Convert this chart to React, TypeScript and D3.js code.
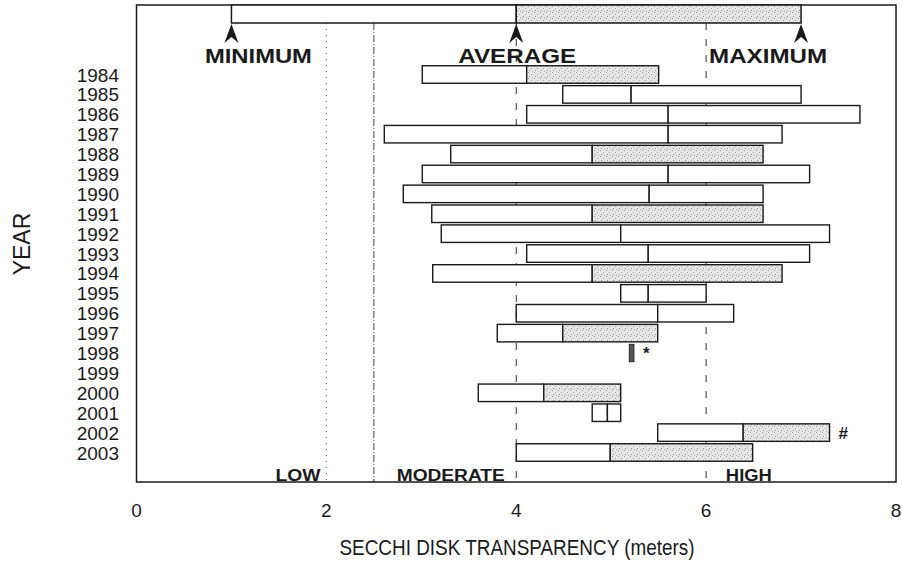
import * as d3 from "d3";

// annual Secchi disk readings (meters)
const years = ["1984", "1985", "1986", "1987", "1988", "1989", "1990", "1991", "1992", "1993",
  "1994", "1995", "1996", "1997", "1998", "1999", "2000", "2001", "2002", "2003"];
const minVals = [3.01, 4.49, 4.11, 2.61, 3.31, 3.01, 2.81, 3.11, 3.21, 4.11,
  3.12, 5.1, 4.0, 3.8, 5.19, null, 3.6, 4.8, 5.49, 4.0];
const avgVals = [4.11, 5.21, 5.6, 5.6, 4.8, 5.6, 5.4, 4.8, 5.1, 5.39,
  4.8, 5.39, 5.49, 4.49, 5.21, null, 4.29, 4.96, 6.39, 4.99];
const maxVals = [5.5, 7.0, 7.62, 6.8, 6.6, 7.09, 6.6, 6.6, 7.3, 7.09,
  6.8, 6.0, 6.29, 5.49, 5.24, null, 5.1, 5.1, 7.3, 6.49];
const shadedYears = ["1984", "1988", "1991", "1994", "1997", "2000", "2002", "2003"];
const notes: Record<string, string> = { "1998": "*", "2002": "#" };

const xTicks = [0, 2, 4, 6, 8];
const zoneNames = ["LOW", "MODERATE", "HIGH"];
const zoneCenters = [1.7, 3.31, 6.45];
const zoneWidths = [45, 108, 46];

// legend example bar
const legendMin = 1, legendAvg = 4, legendMax = 7;
const legendNames = ["MINIMUM", "AVERAGE", "MAXIMUM"];

const font = "'Liberation Sans', Arial, sans-serif";
const ink = "#1a1a1a";

export default function App() {
  const x = d3.scaleLinear().domain([0, 8]).range([136.5, 896]);
  const y = d3.scalePoint<string>().domain(years).range([74.5, 452.5]);
  const top = 5, bottom = 482;
  const barH = 17.5;
  const legY0 = top, legY1 = 23;

  const arrow = (cx: number) =>
    `M${cx},${legY1 + 1} L${cx + 7},${legY1 + 20} L${cx},${legY1 + 14} L${cx - 7},${legY1 + 20} Z`;

  return (
    <svg width={902} height={563} style={{ position: "absolute", left: 0, top: 0, background: "#fff" }}>
      <defs>
        <pattern id="stipple" width={6} height={6} patternUnits="userSpaceOnUse">
          <rect width={6} height={6} fill="#e6e6e6" />
          <rect x={0} y={0} width={1} height={1} fill="#9a9a9a" />
          <rect x={3} y={2} width={1} height={1} fill="#aaaaaa" />
          <rect x={1} y={4} width={1} height={1} fill="#8f8f8f" />
          <rect x={4} y={5} width={1} height={1} fill="#b0b0b0" />
        </pattern>
      </defs>

      {/* reference lines */}
      <line x1={x(2)} x2={x(2)} y1={legY1} y2={bottom} stroke="#555" strokeWidth={1} strokeDasharray="1,5" />
      <line x1={x(2.5)} x2={x(2.5)} y1={legY1} y2={bottom} stroke="#444" strokeWidth={1} strokeDasharray="7,2,1,2" />
      {[4, 6].map((v) => (
        <line key={v} x1={x(v)} x2={x(v)} y1={legY1} y2={bottom} stroke="#333" strokeWidth={1} strokeDasharray="7,9" />
      ))}

      {/* frame */}
      <rect x={x(0)} y={top} width={x(8) - x(0)} height={bottom - top} fill="none" stroke={ink} strokeWidth={1.5} />

      {/* legend */}
      <rect x={x(legendMin)} y={legY0} width={x(legendAvg) - x(legendMin)} height={legY1 - legY0}
        fill="#fff" stroke={ink} strokeWidth={1.5} />
      <rect x={x(legendAvg)} y={legY0} width={x(legendMax) - x(legendAvg)} height={legY1 - legY0}
        fill="url(#stipple)" stroke={ink} strokeWidth={1.5} />
      {[legendMin, legendAvg, legendMax].map((v, i) => (
        <g key={v}>
          <path d={arrow(x(v))} fill={ink} />
          <text x={x(v) + [27, 1, -33][i]} y={63} textAnchor="middle" fontFamily={font} fontWeight="bold"
            fontSize={21} fill={ink} textLength={[107, 118, 118][i]} lengthAdjust="spacingAndGlyphs">
            {legendNames[i]}
          </text>
        </g>
      ))}

      {/* bars */}
      {years.map((yr, i) => {
        const lo = minVals[i], av = avgVals[i], hi = maxVals[i];
        if (lo == null || av == null || hi == null) return null;
        const cy = y(yr)!;
        const y0 = cy - barH / 2;
        const tiny = x(hi) - x(lo) < 8;
        return (
          <g key={yr}>
            {tiny ? (
              <rect x={x(lo)} y={y0} width={x(hi) - x(lo)} height={barH} fill="#555" stroke={ink} strokeWidth={0.8} />
            ) : (
              <>
                <rect x={x(lo)} y={y0} width={x(av) - x(lo)} height={barH} fill="#fff" stroke={ink} strokeWidth={1.4} />
                <rect x={x(av)} y={y0} width={x(hi) - x(av)} height={barH}
                  fill={shadedYears.includes(yr) ? "url(#stipple)" : "#fff"} stroke={ink} strokeWidth={1.4} />
              </>
            )}
            {notes[yr] && (
              <text x={x(hi) + 9} y={cy + 6} fontFamily={font} fontWeight="bold" fontSize={17} fill={ink}>
                {notes[yr]}
              </text>
            )}
          </g>
        );
      })}

      {/* year labels */}
      {years.map((yr) => (
        <text key={yr} x={119} y={y(yr)! + 7} textAnchor="end" fontFamily={font} fontSize={19} fill={ink}>
          {yr}
        </text>
      ))}

      {/* zone labels */}
      {zoneNames.map((n, i) => (
        <text key={n} x={x(zoneCenters[i])} y={481} textAnchor="middle" fontFamily={font} fontWeight="bold"
          fontSize={16} fill={ink} textLength={zoneWidths[i]} lengthAdjust="spacingAndGlyphs">
          {n}
        </text>
      ))}

      {/* x ticks */}
      {xTicks.map((t) => (
        <text key={t} x={x(t)} y={517} textAnchor="middle" fontFamily={font} fontSize={19} fill={ink}>
          {t}
        </text>
      ))}

      <text x={517} y={555} textAnchor="middle" fontFamily={font} fontSize={22} fill={ink}
        textLength={355} lengthAdjust="spacingAndGlyphs">
        SECCHI DISK TRANSPARENCY (meters)
      </text>
      <text transform="translate(30,244) rotate(-90)" textAnchor="middle" fontFamily={font} fontSize={23} fill={ink}>
        YEAR
      </text>
    </svg>
  );
}
